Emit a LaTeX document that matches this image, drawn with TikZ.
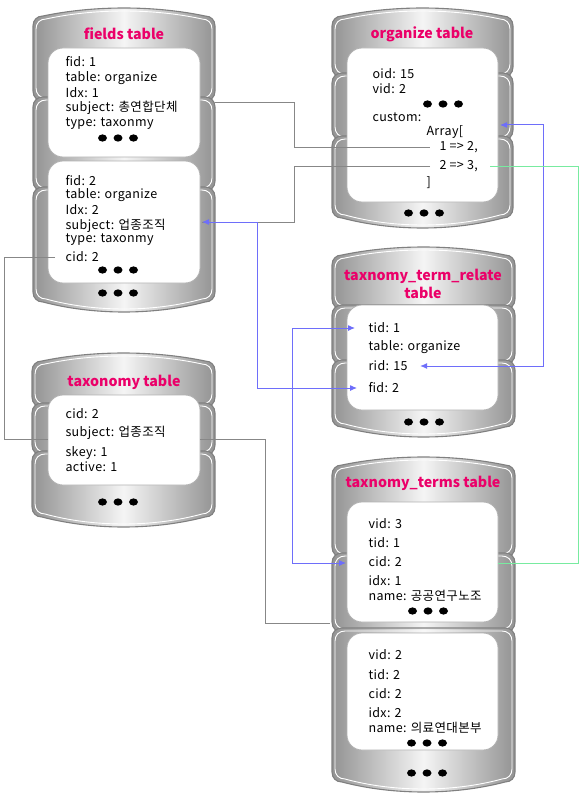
\documentclass[tikz,border=0pt]{standalone}
\usepackage{fontspec}
\setmainfont{Noto Sans CJK KR}
\newfontfamily\rowface{Noto Sans CJK KR}[LetterSpace=3]
\usepackage{tikz}
\usetikzlibrary{arrows.meta}
\definecolor{titlepink}{RGB}{235,0,105}
\definecolor{linkblue}{RGB}{110,110,250}
\definecolor{linkgreen}{RGB}{120,235,160}
\definecolor{linkgray}{RGB}{135,135,135}
\newcommand{\rowfont}{\rowface\fontsize{12.5}{14}\selectfont}
\newcommand{\titlefont}{\fontsize{14.2}{18}\selectfont\bfseries}
\newcommand{\dbseg}[7][seg]{%
  \path[#1] ({#2},{(#5)-10-(#7)}) -- ({#2},{(#4)+10+(#6)})
    .. controls ({#2},{(#4)+4+(#6)}) and ({(#2)+4},{(#4)+(#6)}) .. ({(#2)+10},{(#4)+(#6)})
    .. controls ({(2*(#2)+(#3))/3},{(#4)-(#6)/3}) and ({((#2)+2*(#3))/3},{(#4)-(#6)/3}) .. ({(#3)-10},{(#4)+(#6)})
    .. controls ({(#3)-4},{(#4)+(#6)}) and ({#3},{(#4)+4+(#6)}) .. ({#3},{(#4)+10+(#6)})
    -- ({#3},{(#5)-10-(#7)})
    .. controls ({#3},{(#5)-4-(#7)}) and ({(#3)-4},{(#5)-(#7)}) .. ({(#3)-10},{(#5)-(#7)})
    .. controls ({((#2)+2*(#3))/3},{(#5)+(#7)/3}) and ({(2*(#2)+(#3))/3},{(#5)+(#7)/3}) .. ({(#2)+10},{(#5)-(#7)})
    .. controls ({(#2)+4},{(#5)-(#7)}) and ({#2},{(#5)-4-(#7)}) .. ({#2},{(#5)-10-(#7)}) -- cycle;}
\newcommand{\dbpart}[6]{\dbseg{#1}{#2}{#3}{#4}{#5}{#6}\dbseg[seghi]{(#1)+3}{(#2)-3}{(#3)+3}{(#4)-3}{#5}{#6}}
\newcommand{\dbcard}[4]{\draw[card] (#1,#3) rectangle (#2,#4);}
\newcommand{\dbdots}[2]{\foreach \i in {-1,0,1} \fill ({#1+15.5*\i},#2) ellipse [x radius=4.5, y radius=3.6];}

\begin{document}
\begin{tikzpicture}[x=1pt,y=-1pt,line width=1pt,>={Latex[length=7pt,width=6pt]},
    seg/.style={draw=black!50,line width=1.1pt,left color=gray!85,right color=gray!85,middle color=gray!8},
    seghi/.style={draw=white,line width=0.9pt},
    card/.style={draw=gray!60,line width=0.8pt,fill=white,rounded corners=15pt},
    title/.style={text=titlepink,font=\titlefont,align=center},
    row/.style={anchor=west,inner sep=0pt,font=\rowfont},
    gline/.style={draw=linkgray},
    bline/.style={draw=linkblue,<->},
    grline/.style={draw=linkgreen}]
  \useasboundingbox (0,0) rectangle (585,797);
  % fields table
  \dbpart{33}{215}{8}{101}{8}{0}
  \dbpart{33}{215}{97}{191}{0}{0}
  \dbpart{33}{215}{187}{312}{0}{10}
  \dbcard{48}{200}{48}{157}
  \dbcard{48}{200}{161}{283}
  \node[title] (fields) at (124,34) {fields table};
  \node[row] (f1a) at (65,62) {fid: 1};
  \node[row] (f1b) at (65,78) {table: organize};
  \node[row] (f1c) at (65,93) {Idx: 1};
  \node[row] (f1d) at (65,108) {subject: 총연합단체};
  \node[row] (f1e) at (65,124) {type: taxonmy};
  \dbdots{118}{138}
  \node[row] (f2a) at (65,181) {fid: 2};
  \node[row] (f2b) at (65,195) {table: organize};
  \node[row] (f2c) at (65,210) {Idx: 2};
  \node[row] (f2d) at (65,226) {subject: 업종조직};
  \node[row] (f2e) at (65,240) {type: taxonmy};
  \node[row] (f2f) at (65,257) {cid: 2};
  \dbdots{118}{270}
  \dbdots{118}{293}
  % organize table
  \dbpart{332}{513}{8}{77}{8}{0}
  \dbpart{332}{513}{73}{140}{0}{0}
  \dbpart{332}{513}{136}{228}{0}{10}
  \dbcard{347}{498}{48}{202}
  \node[title] (organize) at (422,34) {organize table};
  \node[row] (o1) at (372,74) {oid: 15};
  \node[row] (o2) at (372,89) {vid: 2};
  \dbdots{443}{104}
  \node[row] (o3) at (372,117) {custom:};
  \node[row] (o4) at (426,132) {Array[};
  \node[row] (o12) at (439,147) {1 => 2,};
  \node[row] (o23) at (439,166) {2 => 3,};
  \node[row] (o5) at (426,183) {]};
  \dbdots{424}{213}
  % taxnomy_term_relate table
  \dbpart{332}{515}{247}{309}{8}{0}
  \dbpart{332}{515}{305}{364}{0}{0}
  \dbpart{332}{515}{360}{437}{0}{10}
  \dbcard{347}{498}{305}{410}
  \node[title] (relate) at (423,284) {taxnomy\_term\_relate\\table};
  \node[row] (r1) at (368,328) {tid: 1};
  \node[row] (r2) at (368,347) {table: organize};
  \node[row] (r3) at (368,366) {rid: 15};
  \node[row] (r4) at (368,388) {fid: 2};
  \dbdots{424}{422}
  % taxonomy table
  \dbpart{32}{215}{353}{407}{8}{0}
  \dbpart{32}{215}{403}{455}{0}{0}
  \dbpart{32}{215}{451}{527}{0}{10}
  \dbcard{48}{200}{395}{485}
  \node[title] (taxonomy) at (124,382) {taxonomy table};
  \node[row] (x1) at (65,414) {cid: 2};
  \node[row] (x2) at (65,433) {subject: 업종조직};
  \node[row] (x3) at (65,453) {skey: 1};
  \node[row] (x4) at (65,467) {active: 1};
  \dbdots{118}{502}
  % taxnomy_terms table
  \dbpart{332}{515}{457}{557}{8}{0}
  \dbpart{332}{515}{553}{632}{0}{0}
  \dbpart{332}{515}{628}{792}{0}{10}
  \dbcard{347}{498}{502}{622}
  \dbcard{347}{498}{633}{750}
  \node[title] (terms) at (423,483) {taxnomy\_terms table};
  \node[row] (t1a) at (368,524) {vid: 3};
  \node[row] (t1b) at (368,543) {tid: 1};
  \node[row] (t1c) at (368,562) {cid: 2};
  \node[row] (t1d) at (368,581) {idx: 1};
  \node[row] (t1e) at (368,596) {name: 공공연구노조};
  \dbdots{428}{611}
  \node[row] (t2a) at (368,655) {vid: 2};
  \node[row] (t2b) at (368,675) {tid: 2};
  \node[row] (t2c) at (368,694) {cid: 2};
  \node[row] (t2d) at (368,713) {idx: 2};
  \node[row] (t2e) at (368,728) {name: 의료연대본부};
  \dbdots{427}{743}
  \dbdots{427}{773}
  % links
  \coordinate (fsubA) at (215,103);
  \coordinate (fsubB) at (202,222);
  \coordinate (ocust) at (500,125);
  \coordinate (tcidL) at (346,563);
  \coordinate (tcidR) at (498,563);
  \coordinate (xsubL) at (48,439);
  \coordinate (xsubR) at (200,439);
  \coordinate (tnameL) at (330,623);
  \draw[gline] (fsubA) -- (294,103) |- ([xshift=-9pt]o12.west);
  \draw[gline] ([xshift=-9pt]o23.west) -- (294,166) |- (fsubB);
  \draw[bline] (fsubB) -- (257,222) |- ([xshift=-11pt]r4.west);
  \draw[bline] (ocust) -- (543,125) |- ([xshift=12pt]r3.east);
  \draw[grline] ([xshift=12pt]o23.east) -- (578,166) |- (tcidR);
  \draw[bline] ([xshift=-13pt]r1.west) -- (292,328) |- (tcidL);
  \draw[gline] ([xshift=-10pt]f2f.west) -- (4,257) |- (xsubL);
  \draw[gline] (xsubR) -| (265,623) -- (tnameL);
\end{tikzpicture}
\end{document}
